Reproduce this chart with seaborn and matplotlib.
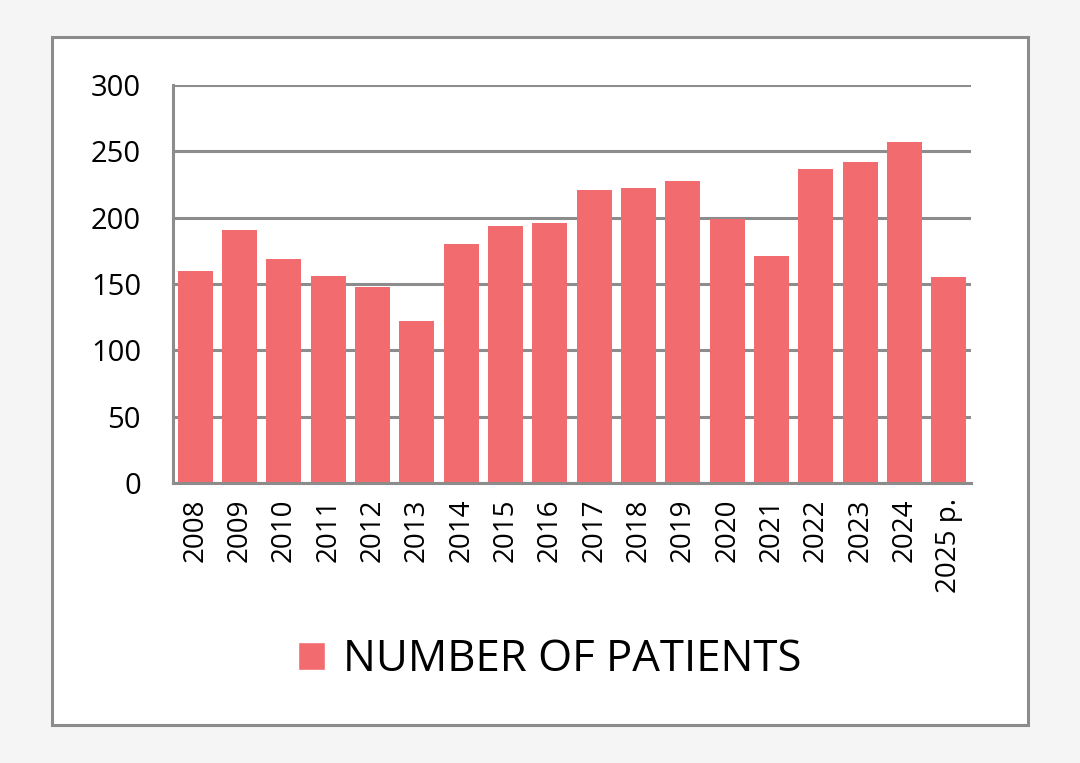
import matplotlib
matplotlib.use("Agg")
import matplotlib.pyplot as plt
import seaborn as sns
import numpy as np
import pandas as pd
from matplotlib.patches import Rectangle, Patch

# dados
anos = ['2008', '2009', '2010', '2011', '2012', '2013', '2014', '2015', '2016',
        '2017', '2018', '2019', '2020', '2021', '2022', '2023', '2024', '2025 p.']
pacientes = [160, 191, 169, 156, 148, 122, 180, 194, 196,
             221, 222, 228, 199, 171, 237, 242, 257, 155]
serie = 'NUMBER OF PATIENTS'

df = pd.DataFrame({'ano': anos, 'pacientes': pacientes})

sns.set_style('white')
plt.rcParams['font.family'] = ['Open Sans', 'DejaVu Sans']
plt.rcParams['text.color'] = 'black'
plt.rcParams['xtick.color'] = 'black'
plt.rcParams['ytick.color'] = 'black'

cor_barra = '#f26b6e'
cinza = '#8c8c8c'

fig = plt.figure(figsize=(10.8, 7.63), dpi=100, facecolor='#f5f5f5')
# painel branco com borda
fig.patches.append(Rectangle((52 / 1080, 1 - 725 / 763), 976 / 1080, 688 / 763,
                             transform=fig.transFigure, facecolor='white',
                             edgecolor=cinza, linewidth=2.2, zorder=-10))

ax = fig.add_axes([173 / 1080, 1 - 483 / 763, 798 / 1080, 398 / 763])
ax.set_facecolor('none')
sns.barplot(data=df, x='ano', y='pacientes', color=cor_barra, width=0.79,
            saturation=1, linewidth=0, edgecolor='none', ax=ax, zorder=3)

ax.set_ylim(0, 300)
ax.set_xlim(-0.5, len(anos) - 0.5)
ax.set_yticks(np.arange(0, 301, 50))
ax.yaxis.grid(True, color=cinza, linewidth=2.2, zorder=0)
ax.set_axisbelow(True)

for lado in ['top', 'right']:
    ax.spines[lado].set_visible(False)
for lado in ['left', 'bottom']:
    ax.spines[lado].set_color(cinza)
    ax.spines[lado].set_linewidth(2.2)
    ax.spines[lado].set_zorder(4)

ax.set_xticks(np.arange(len(anos)))
ax.set_xticklabels(anos, rotation=90, fontsize=20)
ax.set_xticks(np.arange(-0.5, len(anos), 1), minor=True)
ax.tick_params(axis='x', which='major', length=0, pad=11)
ax.tick_params(axis='x', which='minor', length=7, width=2.2, color=cinza)
ax.tick_params(axis='y', length=7, width=2.2, color=cinza, labelsize=21, pad=16)
ax.set_xlabel('')
ax.set_ylabel('')

fig.legend(handles=[Patch(facecolor=cor_barra, label=serie)],
           loc='center', bbox_to_anchor=(0.509, 1 - 660 / 763), frameon=False,
           fontsize=31.5, handlelength=0.62, handleheight=0.62, handletextpad=0.4)

fig.savefig('out.png', dpi=100, facecolor=fig.get_facecolor())
